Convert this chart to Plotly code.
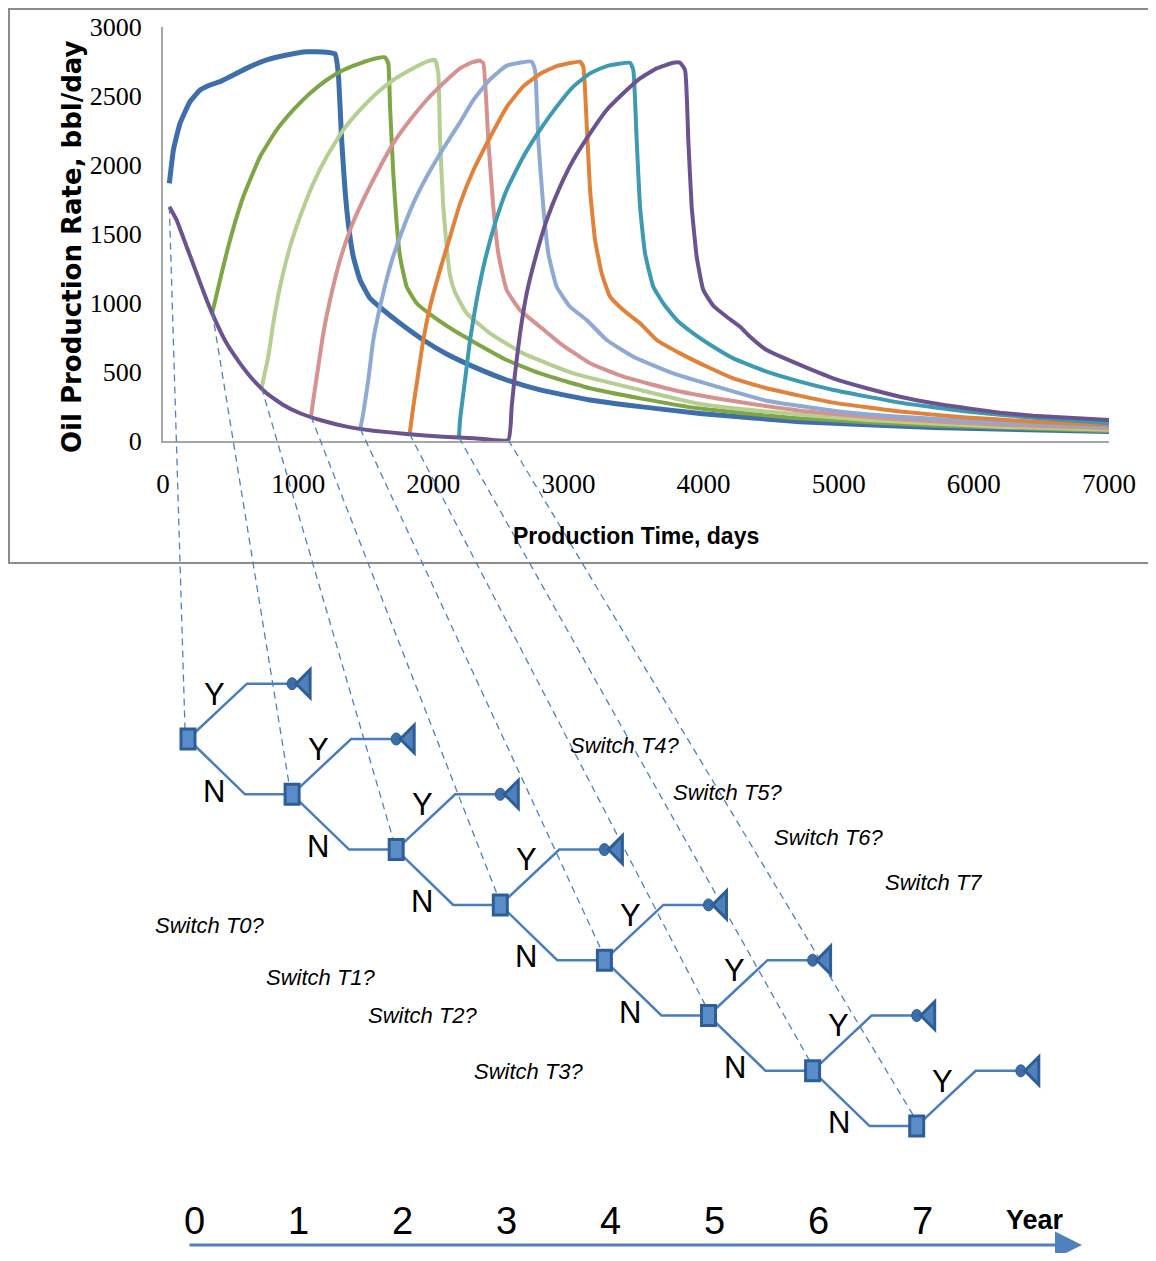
import plotly.graph_objects as go

# ---------------- data ----------------
x_ticks = [0, 1000, 2000, 3000, 4000, 5000, 6000, 7000]
y_ticks = [0, 500, 1000, 1500, 2000, 2500, 3000]

t0_days = [47, 77, 126, 200, 274, 348, 422, 520, 644, 767, 915, 1063, 1211, 1273, 1297, 1322, 1347, 1371, 1408,
           1458, 1532, 1630, 1754, 1926, 2099, 2296, 2543, 2790, 3160, 3530, 3973, 4714, 5700, 7000]
t0_rate = [1867, 2109, 2302, 2459, 2543, 2580, 2604, 2652, 2713, 2761, 2797, 2821, 2817, 2804, 2664, 2181, 1819, 1577,
           1336, 1167, 1034, 949, 853, 732, 630, 539, 442, 370, 297, 249, 200, 140, 97, 68]

t1_days = [365, 434, 496, 594, 718, 841, 964, 1088, 1211, 1334, 1458, 1581, 1643, 1667, 1680, 1704, 1729, 1754,
           1803, 1877, 2000, 2148, 2296, 2543, 2790, 3160, 3530, 3973, 4714, 5700, 7000]
t1_rate = [930, 1215, 1457, 1770, 2060, 2254, 2399, 2520, 2616, 2688, 2737, 2773, 2780, 2737, 2423, 1940, 1577, 1336,
           1118, 998, 901, 804, 720, 587, 490, 382, 309, 235, 164, 112, 72]

t2_days = [730, 742, 779, 816, 866, 940, 1014, 1112, 1211, 1334, 1458, 1581, 1704, 1828, 1951, 2013, 2037, 2050,
           2074, 2099, 2124, 2160, 2247, 2420, 2666, 3036, 3530, 3973, 4467, 5207, 6193, 7000]
t2_rate = [385, 442, 611, 853, 1118, 1408, 1625, 1867, 2060, 2254, 2399, 2520, 2616, 2688, 2749, 2761, 2664, 2181,
           1698, 1408, 1200, 1080, 925, 780, 635, 490, 370, 268, 213, 152, 104, 82]

t3_days = [1095, 1112, 1149, 1186, 1236, 1310, 1384, 1458, 1581, 1704, 1828, 1951, 2074, 2198, 2290, 2346, 2370,
           2407, 2444, 2481, 2543, 2642, 2790, 2938, 3160, 3406, 3776, 4220, 4714, 5454, 6193, 7000]
t3_rate = [178, 297, 539, 780, 1022, 1312, 1529, 1698, 1940, 2157, 2326, 2471, 2592, 2700, 2745, 2756, 2737,
           2181, 1698, 1360, 1094, 949, 828, 708, 563, 466, 370, 290, 220, 157, 118, 92]

t4_days = [1460, 1482, 1519, 1556, 1606, 1680, 1754, 1852, 1951, 2074, 2198, 2296, 2420, 2543, 2728, 2753, 2777,
           2814, 2851, 2913, 3012, 3135, 3283, 3480, 3776, 3973, 4467, 4960, 5454, 6193, 7000]
t4_rate = [88, 201, 442, 732, 973, 1263, 1480, 1722, 1915, 2120, 2310, 2470, 2620, 2720, 2749, 2688, 2181,
           1698, 1360, 1118, 973, 877, 732, 611, 490, 430, 292, 220, 176, 133, 104]

t5_days = [1825, 1852, 1889, 1926, 1976, 2050, 2124, 2198, 2296, 2420, 2543, 2666, 2790, 2913, 3086, 3110, 3135,
           3160, 3197, 3246, 3308, 3406, 3530, 3653, 3826, 4023, 4220, 4467, 4960, 5454, 5947, 6440, 7000]
t5_rate = [50, 249, 490, 732, 973, 1240, 1480, 1720, 1960, 2200, 2420, 2570, 2660, 2717, 2749, 2712, 2302,
           1819, 1457, 1215, 1046, 949, 853, 732, 635, 540, 454, 382, 278, 213, 171, 140, 116]

t6_days = [2190, 2198, 2235, 2272, 2321, 2383, 2457, 2543, 2666, 2790, 2913, 3036, 3160, 3283, 3456, 3480, 3505,
           3530, 3567, 3628, 3702, 3801, 3924, 4072, 4220, 4467, 4714, 4960, 5454, 5947, 6440, 7000]
t6_rate = [25, 152, 442, 732, 1022, 1312, 1577, 1819, 2060, 2254, 2423, 2568, 2664, 2717, 2741, 2688, 2181,
           1698, 1360, 1118, 998, 877, 780, 683, 599, 502, 430, 370, 278, 213, 169, 128]

t7_days = [47, 101, 175, 249, 323, 397, 471, 570, 668, 767, 890, 1014, 1162, 1359, 1556, 1803, 2074, 2300, 2555,
           2580, 2605, 2642, 2691, 2765, 2839, 2938, 3036, 3160, 3283, 3406, 3530, 3653, 3776, 3826, 3863, 3887,
           3912, 3949, 3998, 4072, 4171, 4270, 4344, 4467, 4714, 4960, 5207, 5454, 5700, 5947, 6193, 6440, 7000]
t7_rate = [1698, 1601, 1408, 1215, 1022, 853, 708, 563, 442, 346, 261, 201, 152, 104, 75, 51, 31, 20, 8,
           249, 490, 780, 1070, 1360, 1601, 1843, 2036, 2229, 2399, 2520, 2628, 2700, 2741, 2741, 2688, 2181,
           1698, 1336, 1094, 980, 900, 828, 756, 659, 551, 454, 382, 321, 273, 237, 205, 183, 152]

switch_years = [0, 1, 2, 3, 4, 5, 6, 7]
switch_days = [47, 365, 730, 1095, 1460, 1825, 2190, 2555]
switch_rates = [1698, 930, 385, 178, 88, 50, 25, 8]
switch_labels = ["Switch T0?", "Switch T1?", "Switch T2?", "Switch T3?",
                 "Switch T4?", "Switch T5?", "Switch T6?", "Switch T7"]
year_labels = ["0", "1", "2", "3", "4", "5", "6", "7"]

# ---------------- styles / layout geometry ----------------
series = [
    (t0_days, t0_rate, "#3F6FAA", 5),
    (t1_days, t1_rate, "#7FA545", 4),
    (t2_days, t2_rate, "#B5CF92", 4),
    (t3_days, t3_rate, "#D59290", 4),
    (t4_days, t4_rate, "#8EA9D2", 4),
    (t5_days, t5_rate, "#E0823A", 4),
    (t6_days, t6_rate, "#3D9AB0", 4),
    (t7_days, t7_rate, "#6C5390", 4),
]

OFF = 8                  # page body margin of the html page
FW, FH = 1140, 1245      # figure size so that the page stays inside the window

PL, PR = 163, 1109      # plot area, window px (x)
PT, PB = 27, 441        # plot area, window px (y of top tick / bottom)
X_MAX, Y_MAX = x_ticks[-1], y_ticks[-1]

TX0, TDX = 188, 104.1   # tree node window px
TY0, TDY = 739, 55.3

SERIF = "Liberation Serif, Times New Roman, serif"
SANS = "Liberation Sans, Arial, sans-serif"
TREE_BLUE = "#4A7EBB"
DARK_BLUE = "#2F5E96"


def chart_px(day, rate):
    return PL + day / X_MAX * (PR - PL), PB - rate / Y_MAX * (PB - PT)


def node_px(year):
    return TX0 + year * TDX, TY0 + year * TDY


fig = go.Figure()

for d, r, c, w in series:
    fig.add_trace(go.Scatter(x=d, y=r, mode="lines", line=dict(color=c, width=w, shape="spline", smoothing=0.4),
                             xaxis="x", yaxis="y", showlegend=False, hoverinfo="skip"))

shapes = []
shapes.append(dict(type="rect", xref="x2", yref="y2", x0=9, y0=9, x1=1175, y1=563,
                   line=dict(color="#8C8C8C", width=2), fillcolor="rgba(0,0,0,0)", layer="below"))

for yr, dd, rr in zip(switch_years, switch_days, switch_rates):
    cx, cy = chart_px(dd, rr)
    nx, ny = node_px(yr)
    shapes.append(dict(type="line", xref="x2", yref="y2", x0=cx, y0=cy, x1=nx - 3, y1=ny - 10,
                       line=dict(color="#4F81BD", width=1.3, dash="7px,5px")))

bx, by = [], []
for yr in switch_years:
    nx, ny = node_px(yr)
    tx, ty = node_px(yr + 1)
    bx += [nx, nx + 59, tx, None]
    by += [ny, ny - TDY, ny - TDY, None]
    if yr < switch_years[-1]:
        bx += [nx, nx + 57, tx, None]
        by += [ny, ty, ty, None]
fig.add_trace(go.Scatter(x=bx, y=by, mode="lines", line=dict(color=TREE_BLUE, width=2.5),
                         xaxis="x2", yaxis="y2", showlegend=False, hoverinfo="skip"))

for yr in switch_years:
    nx, ny = node_px(yr)
    tx, _ = node_px(yr + 1)
    ey = ny - TDY
    shapes.append(dict(type="rect", xref="x2", yref="y2", x0=nx - 7, x1=nx + 7, y0=ny - 10, y1=ny + 10,
                       fillcolor="#5B8DCB", line=dict(color=DARK_BLUE, width=3)))
    shapes.append(dict(type="circle", xref="x2", yref="y2", x0=tx - 5, x1=tx + 5, y0=ey - 6, y1=ey + 6,
                       fillcolor="#3A6EA5", line=dict(color=DARK_BLUE, width=1)))
    shapes.append(dict(type="path", xref="x2", yref="y2",
                       path=f"M {tx + 4},{ey} L {tx + 18},{ey - 14} L {tx + 18},{ey + 14} Z",
                       fillcolor="#4F81BD", line=dict(color=DARK_BLUE, width=3)))

annotations = []
for yr in switch_years:
    nx, ny = node_px(yr)
    annotations.append(dict(x=nx + 26, y=ny - 45, text="Y", xref="x2", yref="y2", showarrow=False,
                            font=dict(family=SANS, size=31, color="black")))
    if yr < switch_years[-1]:
        annotations.append(dict(x=nx + 26, y=ny + 52, text="N", xref="x2", yref="y2", showarrow=False,
                                font=dict(family=SANS, size=31, color="black")))

switch_label_pos = [(210, 925), (321, 977), (423, 1015), (529, 1071),
                    (625, 745), (728, 792), (829, 837), (933, 882)]
for txt, (lx, ly) in zip(switch_labels, switch_label_pos):
    annotations.append(dict(x=lx, y=ly, text=f"<i>{txt}</i>", xref="x2", yref="y2", showarrow=False,
                            font=dict(family=SANS, size=22, color="black")))

for yr, lab in zip(switch_years, year_labels):
    nx, _ = node_px(yr)
    annotations.append(dict(x=nx + 6, y=1221, text=lab, xref="x2", yref="y2", showarrow=False,
                            font=dict(family=SANS, size=38, color="black")))
annotations.append(dict(x=1035, y=1220, text="<b>Year</b>", xref="x2", yref="y2", showarrow=False,
                        font=dict(family=SANS, size=27, color="black")))
annotations.append(dict(x=1082, y=1245, ax=188, ay=1245, xref="x2", yref="y2", axref="x2", ayref="y2",
                        text="", showarrow=True, arrowhead=2, arrowsize=1.8, arrowwidth=3,
                        arrowcolor="#4F81BD"))

annotations.append(dict(x=72, y=247, text="<b>Oil Production Rate, bbl/day</b>", textangle=-90,
                        xref="x2", yref="y2", showarrow=False,
                        font=dict(family="DejaVu Sans, Verdana, sans-serif", size=26, color="black")))
annotations.append(dict(x=636, y=536, text="<b>Production Time, days</b>", xref="x2", yref="y2",
                        showarrow=False, font=dict(family=SANS, size=23, color="black")))

fig.update_layout(
    template="none",
    width=FW, height=FH, margin=dict(l=0, r=0, t=0, b=0, pad=0, autoexpand=False),
    paper_bgcolor="white", plot_bgcolor="rgba(0,0,0,0)",
    showlegend=False,
    xaxis=dict(domain=[(PL - OFF) / FW, (PR - OFF) / FW], range=[0, X_MAX], tickvals=x_ticks, ticks="",
               automargin=False, showline=True, linecolor="#A6A6A6", linewidth=2, showgrid=False,
               zeroline=False, tickfont=dict(family=SERIF, size=27, color="black"), ticklabelstandoff=18,
               anchor="y"),
    yaxis=dict(domain=[1 - (PB - OFF) / FH, 1 - (PT - OFF) / FH], range=[0, Y_MAX], tickvals=y_ticks, ticks="",
               automargin=False, showline=True, linecolor="#A6A6A6", linewidth=2, showgrid=False,
               zeroline=False, tickfont=dict(family=SERIF, size=26, color="black"), ticklabelstandoff=14,
               anchor="x"),
    xaxis2=dict(domain=[0, 1], range=[OFF, OFF + FW], visible=False, anchor="y2", automargin=False),
    yaxis2=dict(domain=[0, 1], range=[OFF + FH, OFF], visible=False, anchor="x2", automargin=False),
    shapes=shapes, annotations=annotations,
)

fig.write_html("out.html")
